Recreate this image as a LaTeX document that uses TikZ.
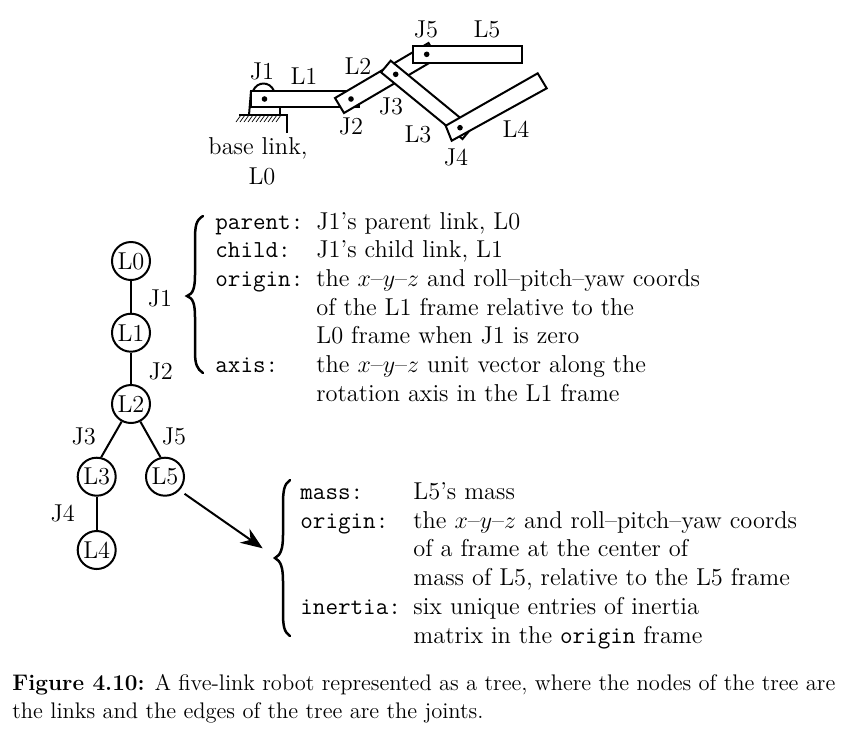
\documentclass[tikz,border=0pt]{standalone}
\usetikzlibrary{arrows.meta,patterns}
\newcommand{\bodyfs}{\fontsize{12.2}{14}\selectfont}
\newcommand{\capfs}{\fontsize{11.27}{13}\selectfont}
\tikzset{
  px/.style={x=.5pt,y=-.5pt},
  linkbar/.style={draw,fill=white,line width=1pt,line join=miter},
  pindot/.style={fill,circle,inner sep=0,minimum size=2.8pt},
  lab/.style={inner sep=0,font=\bodyfs},
  row/.style={inner sep=0,anchor=base west,font=\bodyfs},
  treenode/.style={draw,circle,line width=1pt,inner sep=0,minimum size=19pt,font=\bodyfs},
  treeedge/.style={line width=1pt},
  curly/.style={line width=1.25pt,line cap=round},
  captext/.style={inner sep=0,anchor=base west,font=\capfs},
}
\begin{document}
\begin{tikzpicture}[px]
\useasboundingbox (0,0) rectangle (845,736);
% base
\draw[line width=.9pt] (239,115) -- (287,115) -- (287,133);
\foreach \i in {0,...,10} \draw[line width=.35pt] ({241+4*\i},115) -- ({236+4*\i},122);
\draw[line width=1pt] (251,91) -- (249,115);
\draw[line width=1pt] (280,107) -- (280,115);
\draw[line width=1pt] (253,91) .. controls (257,81) and (270,81) .. (274,91);
% links
\draw[linkbar] (251,91) rectangle (359,107);
\draw[linkbar] (335,98) -- (344,113) -- (437.7,58) -- (428.5,43) -- cycle;
\draw[linkbar] (381,72.3) -- (390.7,60.7) -- (472,127.5) -- (462.5,139) -- cycle;
\draw[linkbar] (445.7,125.7) -- (451.7,140.7) -- (546.7,88.3) -- (537.7,73.3) -- cycle;
\draw[linkbar] (413.3,45.7) rectangle (521.7,62.7);
\node[pindot] (p1) at (264.5,99) {};
\node[pindot] (p2) at (351,99) {};
\node[pindot] (p3) at (395.7,74.3) {};
\node[pindot] (p4) at (460,127.7) {};
\node[pindot] (p5) at (426.7,54.3) {};
\node[lab] (tJ1) at (262,71) {J1};
\node[lab] (tL1) at (304,76) {L1};
\node[lab] (tL2) at (358,66) {L2};
\node[lab] (tJ2) at (351,126) {J2};
\node[lab] (tJ3) at (391,106) {J3};
\node[lab] (tL3) at (418,134) {L3};
\node[lab] (tJ4) at (456,157) {J4};
\node[lab] (tL4) at (516,129) {L4};
\node[lab] (tJ5) at (426,29) {J5};
\node[lab] (tL5) at (487,29) {L5};
\node[lab] (tbase) at (258,148) {base link,};
\node[lab] (tL0) at (262,176) {L0};
% tree
\node[treenode] (L0) at (131,261) {L0};
\node[treenode] (L1) at (131,332.7) {L1};
\node[treenode] (L2) at (131,404) {L2};
\node[treenode] (L3) at (96.7,476.7) {L3};
\node[treenode] (L5) at (165,476.7) {L5};
\node[treenode] (L4) at (96.7,550) {L4};
\draw[treeedge] (L0) -- (L1);
\draw[treeedge] (L1) -- (L2);
\draw[treeedge] (L2.-118) -- (L3.77);
\draw[treeedge] (L2.-62) -- (L5.103);
\draw[treeedge] (L3) -- (L4);
\node[lab] (eJ1) at (160,298) {J1};
\node[lab] (eJ2) at (160.7,371) {J2};
\node[lab] (eJ3) at (83.7,436) {J3};
\node[lab] (eJ5) at (174,436) {J5};
\node[lab] (eJ4) at (62.7,513) {J4};
\coordinate (tip) at (262.7,548.3);
\draw[line width=1pt,-{Stealth[length=11pt,width=8.5pt]},shorten <=3pt] (L5.-43) -- (tip);
% braces
\draw[curly] (203,216) .. controls (196,220) and (195,226) .. (195,240) -- (195,275) .. controls (195,288) and (193,294) .. (187,296) .. controls (193,298) and (195,304) .. (195,317) -- (195,352) .. controls (195,364) and (197,369) .. (203,373);
\draw[curly] (290,480) .. controls (284,484) and (283,491) .. (283,505) -- (283,535) .. controls (283,548) and (281,555) .. (275,558) .. controls (281,561) and (283,568) .. (283,581) -- (283,612) .. controls (283,626) and (284,632) .. (290,636);
% list one
\node[row] (a1) at (215,229) {\ttfamily parent:};
\node[row] (b1) at (316,229) {J1's parent link, L0};
\node[row] (a2) at (215,257.5) {\ttfamily child:};
\node[row] (b2) at (316,257.5) {J1's child link, L1};
\node[row] (a3) at (215,286) {\ttfamily origin:};
\node[row] (b3) at (316,286) {the $x$--$y$--$z$ and roll--pitch--yaw coords};
\node[row] (b4) at (316,315) {of the L1 frame relative to the};
\node[row] (b5) at (316,343.5) {L0 frame when J1 is zero};
\node[row] (a6) at (215,372) {\ttfamily axis:};
\node[row] (b6) at (316,372) {the $x$--$y$--$z$ unit vector along the};
\node[row] (b7) at (316,401) {rotation axis in the L1 frame};
% list two
\node[row] (c1) at (300,499) {\ttfamily mass:};
\node[row] (d1) at (413,499) {L5's mass};
\node[row] (c2) at (300,528) {\ttfamily origin:};
\node[row] (d2) at (413,528) {the $x$--$y$--$z$ and roll--pitch--yaw coords};
\node[row] (d3) at (413,556.5) {of a frame at the center of};
\node[row] (d4) at (413,585) {mass of L5, relative to the L5 frame};
\node[row] (c5) at (300,614) {\ttfamily inertia:};
\node[row] (d5) at (413,614) {six unique entries of inertia};
\node[row] (d6) at (413,643) {matrix in the {\ttfamily origin} frame};
% caption
\node[captext] (cap1) at (12,690) {\textbf{Figure 4.10:} A five-link robot represented as a tree, where the nodes of the tree are};
\node[captext] (cap2) at (12,718) {the links and the edges of the tree are the joints.};
\end{tikzpicture}
\end{document}
